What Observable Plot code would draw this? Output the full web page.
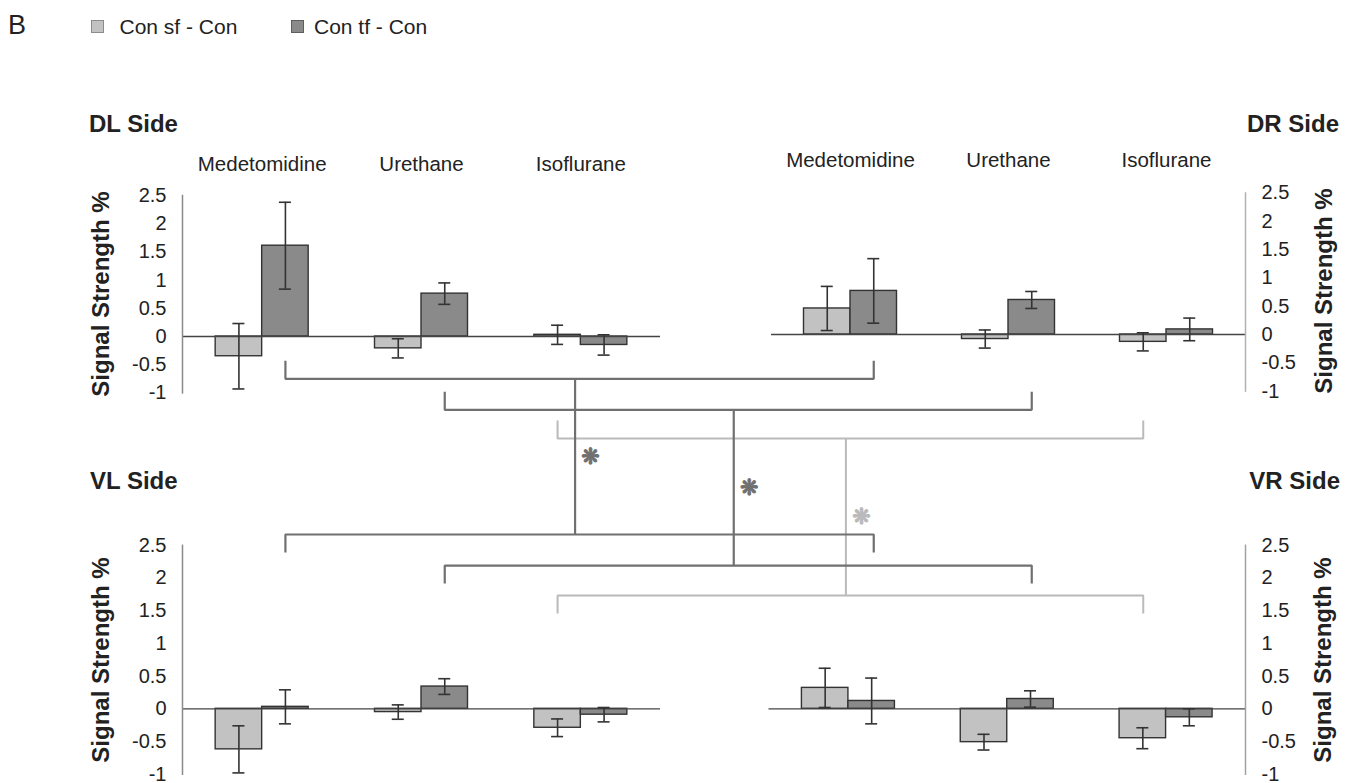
<!DOCTYPE html>
<html>
<head>
<meta charset="utf-8">
<script src="https://cdn.jsdelivr.net/npm/d3@7"></script>
<script src="https://cdn.jsdelivr.net/npm/@observablehq/plot@0.6"></script>
<style>
  body { margin: 0; background: #fff; }
  #chart { position: relative; width: 1360px; height: 783px; overflow: hidden;
           font-family: "Liberation Sans", Arial, sans-serif; color: #222; background: #fff; }
  .t { position: absolute; white-space: nowrap; line-height: 1; }
  .b { font-weight: bold; }
  .sw { position: absolute; width: 13px; height: 13px; box-sizing: border-box; }
  #chart svg { position: absolute; left: 0; top: 0; pointer-events: none; }
</style>
</head>
<body>
<div id="chart">
  <div class="t" style="left:8px;top:12px;font-size:27px;">B</div>
  <div class="sw" style="left:91px;top:20px;background:#c2c2c2;border:1px solid #8c8c8c;"></div>
  <div class="t" style="left:119.5px;top:15.5px;font-size:21px;">Con sf - Con</div>
  <div class="sw" style="left:291px;top:20px;background:#8a8a8a;border:1px solid #5e5e5e;"></div>
  <div class="t" style="left:314px;top:15.5px;font-size:21px;">Con tf - Con</div>

  <div class="t b" style="left:89px;top:111.5px;font-size:24px;">DL Side</div>
  <div class="t b" style="right:21px;top:111.5px;font-size:24px;">DR Side</div>
  <div class="t b" style="left:90px;top:469px;font-size:24px;">VL Side</div>
  <div class="t b" style="right:20px;top:469px;font-size:24px;">VR Side</div>

  <div class="t b" style="left:101px;top:294px;font-size:24px;transform:translate(-50%,-50%) rotate(-90deg);">Signal Strength %</div>
  <div class="t b" style="left:1324px;top:291px;font-size:24px;transform:translate(-50%,-50%) rotate(-90deg);">Signal Strength %</div>
  <div class="t b" style="left:101px;top:660px;font-size:24px;transform:translate(-50%,-50%) rotate(-90deg);">Signal Strength %</div>
  <div class="t b" style="left:1323px;top:660px;font-size:24px;transform:translate(-50%,-50%) rotate(-90deg);">Signal Strength %</div>
</div>
<script>
// ---------------- data ----------------
const drugs = ["Medetomidine", "Urethane", "Isoflurane"];
const seriesNames = ["Con sf - Con", "Con tf - Con"];
const yTicks = [-1, -0.5, 0, 0.5, 1, 1.5, 2, 2.5];

const DL_sf = [-0.35, -0.21, 0.03];   const DL_sf_err = [0.58, 0.17, 0.17];
const DL_tf = [1.61, 0.76, -0.15];    const DL_tf_err = [0.77, 0.19, 0.18];
const DR_sf = [0.46, -0.08, -0.13];   const DR_sf_err = [0.39, 0.16, 0.16];
const DR_tf = [0.77, 0.61, 0.09];     const DR_tf_err = [0.57, 0.15, 0.20];
const VL_sf = [-0.62, -0.05, -0.29];  const VL_sf_err = [0.36, 0.11, 0.135];
const VL_tf = [0.03, 0.34, -0.09];    const VL_tf_err = [0.26, 0.12, 0.11];
const VR_sf = [0.32, -0.51, -0.45];   const VR_sf_err = [0.30, 0.12, 0.16];
const VR_tf = [0.12, 0.15, -0.13];    const VR_tf_err = [0.35, 0.125, 0.13];

// significant comparisons (dorsal vs ventral), bracket levels in panel data units
const cmpDrug = ["Medetomidine", "Urethane", "Isoflurane"];
const cmpSeries = ["tf", "tf", "sf"];
const dorsalLevel = [-0.75, -1.30, -1.81];   // in DL/DR units
const ventralLevel = [2.665, 2.19, 1.732];   // in VL/VR units

// ---------------- style ----------------
const W = 1360, H = 783;
const LIGHT = "#c2c2c2", DARK = "#8a8a8a", EDGE = "#333", ERR = "#333";
const BR_DARK = "#707070", BR_LIGHT = "#bababa";
const BAR = 46.5, CAP = 12;
const FONT = "'Liberation Sans', Arial, sans-serif";

const panelDefs = [
  {key: "DL", sf: DL_sf, sfe: DL_sf_err, tf: DL_tf, tfe: DL_tf_err, l: 182, r: 660, t: 195, b: 392.4, axis: "left", axisColor: "#8a8a8a", cats: 25},
  {key: "DR", sf: DR_sf, sfe: DR_sf_err, tf: DR_tf, tfe: DR_tf_err, l: 771, r: 1245, t: 192.5, b: 390.6, axis: "right", axisColor: "#b0b0b0", cats: 26},
  {key: "VL", sf: VL_sf, sfe: VL_sf_err, tf: VL_tf, tfe: VL_tf_err, l: 182, r: 660, t: 544.8, b: 773.7, axis: "left", axisColor: "#8a8a8a", cats: null},
  {key: "VR", sf: VR_sf, sfe: VR_sf_err, tf: VR_tf, tfe: VR_tf_err, l: 768.5, r: 1245, t: 544.8, b: 773.7, axis: "right", axisColor: "#a0a0a0", cats: null}
];

function makePanel(p) {
  const bw = (p.r - p.l) / drugs.length;
  const half = bw / 2;
  const rows = drugs.map((d, i) => ({drug: d, sf: p.sf[i], sfe: p.sfe[i], tf: p.tf[i], tfe: p.tfe[i]}));
  const errMarks = (key, ekey, dx) => [
    Plot.ruleX(rows, {x: "drug", y1: d => d[key] - d[ekey], y2: d => d[key] + d[ekey], dx, stroke: ERR, strokeWidth: 1.6}),
    Plot.tickY(rows, {x: "drug", y: d => d[key] + d[ekey], dx, insetLeft: half - CAP / 2, insetRight: half - CAP / 2, stroke: ERR, strokeWidth: 1.6}),
    Plot.tickY(rows, {x: "drug", y: d => d[key] - d[ekey], dx, insetLeft: half - CAP / 2, insetRight: half - CAP / 2, stroke: ERR, strokeWidth: 1.6})
  ];
  const marks = [
    Plot.barY(rows, {x: "drug", y: "sf", fill: LIGHT, stroke: EDGE, strokeWidth: 1.4, insetLeft: half - BAR, insetRight: half}),
    Plot.barY(rows, {x: "drug", y: "tf", fill: DARK, stroke: EDGE, strokeWidth: 1.4, insetLeft: half, insetRight: half - BAR}),
    Plot.ruleY([0], {stroke: "#444", strokeWidth: 1.3}),
    Plot.frame({anchor: p.axis, stroke: p.axisColor, strokeWidth: 1.5}),
    ...errMarks("sf", "sfe", -BAR / 2),
    ...errMarks("tf", "tfe", BAR / 2),
    Plot.axisY({anchor: p.axis, ticks: yTicks, tickSize: 0, tickPadding: 16, tickFormat: d => String(d), fontSize: 20, label: null, fill: "#222"})
  ];
  if (p.cats != null) {
    marks.push(Plot.axisX({anchor: "top", tickSize: 0, tickPadding: p.cats, fontSize: 20.5, label: null, fill: "#222"}));
  }
  const svg = Plot.plot({
    width: W, height: H,
    marginLeft: p.l, marginRight: W - p.r, marginTop: p.t, marginBottom: H - p.b,
    x: {type: "band", domain: drugs, padding: 0, round: false, axis: null},
    y: {domain: [-1, 2.5], axis: null},
    style: {fontFamily: FONT, background: "transparent", color: "#222", overflow: "visible"},
    marks
  });
  svg.setAttribute("width", W); svg.setAttribute("height", H);
  svg.style.width = W + "px"; svg.style.height = H + "px"; svg.style.maxWidth = "none";
  return svg;
}

const chart = document.getElementById("chart");
const P = {};
for (const p of panelDefs) {
  P[p.key] = makePanel(p);
  chart.appendChild(P[p.key]);
}

// ---------------- brackets ----------------
function barCenter(plot, drug, s) {
  const x = plot.scale("x");
  return x.apply(drug) + x.bandwidth / 2 + (s === "sf" ? -BAR / 2 : BAR / 2);
}
const TICK = 18, CONN_SHIFT = -4.5, AST_DX = 15.5;
const lines = [], asts = [];
cmpDrug.forEach((drug, i) => {
  const s = cmpSeries[i];
  const xL = barCenter(P.DL, drug, s), xR = barCenter(P.DR, drug, s);
  const yD = P.DL.scale("y").apply(dorsalLevel[i]);
  const yV = P.VL.scale("y").apply(ventralLevel[i]);
  const color = s === "sf" ? BR_LIGHT : BR_DARK;
  const xc = (xL + xR) / 2 + CONN_SHIFT;
  const add = (id, pts) => pts.forEach(([x, y]) => lines.push({id: id, x, y, color}));
  add(i + "d", [[xL, yD - TICK], [xL, yD], [xR, yD], [xR, yD - TICK]]);
  add(i + "v", [[xL, yV + TICK], [xL, yV], [xR, yV], [xR, yV + TICK]]);
  add(i + "c", [[xc, yD], [xc, yV]]);
  asts.push({x: xc + AST_DX, y: (yD + yV) / 2, color});
});

const overlay = Plot.plot({
  width: W, height: H, margin: 0,
  x: {type: "identity", axis: null}, y: {type: "identity", axis: null},
  style: {background: "transparent", overflow: "visible"},
  marks: [
    Plot.line(lines.filter(d => d.color === BR_LIGHT), {x: "x", y: "y", z: "id", stroke: BR_LIGHT, strokeWidth: 2, strokeLinejoin: "miter", strokeLinecap: "butt"}),
    Plot.line(lines.filter(d => d.color === BR_DARK), {x: "x", y: "y", z: "id", stroke: BR_DARK, strokeWidth: 2.2, strokeLinejoin: "miter", strokeLinecap: "butt"}),
    Plot.text(asts, {x: "x", y: "y", text: () => "\u274B", fill: d => d.color, stroke: d => d.color, strokeWidth: 1, fontSize: 22, fontFamily: "DejaVu Sans"})
  ]
});
overlay.setAttribute("width", W); overlay.setAttribute("height", H);
overlay.style.width = W + "px"; overlay.style.height = H + "px"; overlay.style.maxWidth = "none";
chart.appendChild(overlay);
</script>
</body>
</html>
